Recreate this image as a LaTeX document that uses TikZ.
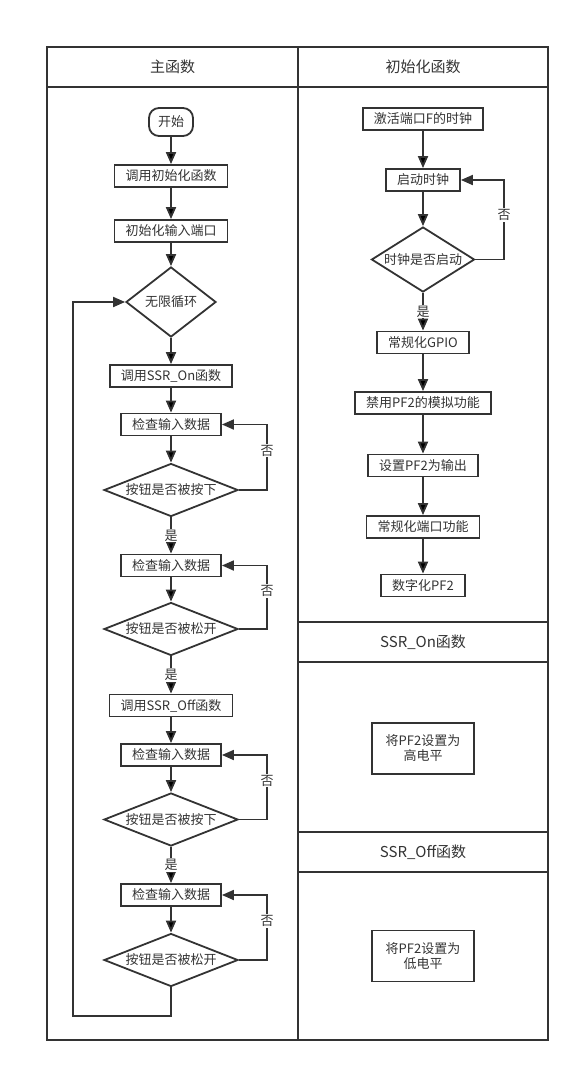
\documentclass[tikz,border=0pt]{standalone}
\usepackage{fontspec}
\setmainfont{Noto Sans CJK SC}
\usetikzlibrary{shapes.geometric,arrows.meta}
\definecolor{ink}{HTML}{333333}

\tikzset{
	frame/.style={draw=ink,line width=1.8pt},
	title/.style={text=ink,font=\fontsize{15}{18}\selectfont},
	stepbox/.style={draw=ink,line width=1.8pt,text=ink,inner xsep=11pt,minimum height=22pt,font=\fontsize{13}{15}\selectfont},
	startbox/.style={stepbox,rounded corners=10pt,minimum height=28pt,inner xsep=9pt},
	test/.style={shape=diamond,draw=ink,line width=1.8pt,text=ink,inner sep=0pt,font=\fontsize{13}{15}\selectfont},
	arr/.style={draw=ink,line width=1.8pt,-{Triangle[length=12pt,width=10pt]}},
	lbl/.style={fill=white,text=ink,inner sep=1pt,font=\fontsize{13}{15}\selectfont}
}

\begin{document}
\begin{tikzpicture}[x=1pt,y=-1pt]
	\useasboundingbox (0,0) rectangle (580,1072);
	
	\draw[frame] (47,47) rectangle (548,1040);
	\draw[frame] (298,47) -- (298,1040);
	\draw[frame] (47,87) -- (548,87);
	\draw[frame] (298,622) -- (548,622);
	\draw[frame] (298,662) -- (548,662);
	\draw[frame] (298,832) -- (548,832);
	\draw[frame] (298,872) -- (548,872);
	
	\node[title] (tmain) at (172.5, 67)  {主函数};
	\node[title] (tinit) at (423, 67)    {初始化函数};
	\node[title] (ton)   at (423, 642)   {SSR\_On函数};
	\node[title] (toff)  at (423, 852)   {SSR\_Off函数};
	
	\node[startbox] (start) at (171, 122)   {开始};
	\node[stepbox] (callinit) at (171, 176)  {调用初始化函数};
	\node[stepbox] (initin) at (171, 231)    {初始化输入端口};
	\node[test,minimum width=90pt,minimum height=70pt,aspect=1.3] (loop) at (171, 302) {无限循环};
	\node[stepbox] (callon) at (171, 376)    {调用SSR\_On函数};
	\node[stepbox] (chka) at (171, 424.5)    {检查输入数据};
	\node[test,minimum width=134pt,minimum height=53pt,aspect=2.5] (pressa) at (171, 490) {按钮是否被按下};
	\node[stepbox] (chkb) at (171, 565.5)    {检查输入数据};
	\node[test,minimum width=134pt,minimum height=53pt,aspect=2.5] (relsa) at (171, 629) {按钮是否被松开};
	\node[stepbox] (calloff) at (171, 705.5) {调用SSR\_Off函数};
	\node[stepbox] (chkc) at (171, 755)      {检查输入数据};
	\node[test,minimum width=134pt,minimum height=53pt,aspect=2.5] (pressb) at (171, 819.5) {按钮是否被按下};
	\node[stepbox] (chkd) at (171, 895)      {检查输入数据};
	\node[test,minimum width=134pt,minimum height=53pt,aspect=2.5] (relsb) at (171, 960) {按钮是否被松开};
	
	\node[stepbox] (clk) at (423, 119)       {激活端口F的时钟};
	\node[stepbox] (run) at (423, 180)       {启动时钟};
	\node[test,minimum width=103pt,minimum height=65pt,aspect=1.6] (ready) at (423, 259.5) {时钟是否启动};
	\node[stepbox] (gpio) at (423, 342.5)    {常规化GPIO};
	\node[stepbox] (anlg) at (423, 403)      {禁用PF2的模拟功能};
	\node[stepbox] (out) at (423, 465.5)     {设置PF2为输出};
	\node[stepbox] (port) at (423, 527)      {常规化端口功能};
	\node[stepbox] (dig) at (423, 585.5)     {数字化PF2};
	
	\node[stepbox,align=center,minimum width=102pt,minimum height=51pt] (high) at (423, 748.5) {将PF2设置为\\高电平};
	\node[stepbox,align=center,minimum width=102pt,minimum height=51pt] (low) at (423, 956)    {将PF2设置为\\低电平};
	
	\coordinate (rl) at (267, 0);
	\coordinate (rr) at (504, 0);
	\coordinate (back) at (73, 1016);
	
	\path[arr] (start) edge (callinit);
	\path[arr] (callinit) edge (initin);
	\path[arr] (initin) edge (loop);
	\path[arr] (loop) edge (callon);
	\path[arr] (callon) edge (chka);
	\path[arr] (chka) edge (pressa);
	\path[arr] (pressa) edge node[lbl] {是} (chkb);
	\path[arr] (chkb) edge (relsa);
	\path[arr] (relsa) edge node[lbl] {是} (calloff);
	\path[arr] (calloff) edge (chkc);
	\path[arr] (chkc) edge (pressb);
	\path[arr] (pressb) edge node[lbl] {是} (chkd);
	\path[arr] (chkd) edge (relsb);
	
	\draw[arr] (pressa.east) -- (pressa.east -| rl) |- node[lbl,pos=0.3] {否} (chka.east);
	\draw[arr] (relsa.east) -- (relsa.east -| rl) |- node[lbl,pos=0.3] {否} (chkb.east);
	\draw[arr] (pressb.east) -- (pressb.east -| rl) |- node[lbl,pos=0.3] {否} (chkc.east);
	\draw[arr] (relsb.east) -- (relsb.east -| rl) |- node[lbl,pos=0.3] {否} (chkd.east);
	\draw[arr] (relsb.south) |- (back) |- (loop.west);
	
	\path[arr] (clk) edge (run);
	\path[arr] (run) edge (ready);
	\path[arr] (ready) edge node[lbl] {是} (gpio);
	\path[arr] (gpio) edge (anlg);
	\path[arr] (anlg) edge (out);
	\path[arr] (out) edge (port);
	\path[arr] (port) edge (dig);
	\draw[arr] (ready.east) -- (ready.east -| rr) |- node[lbl,pos=0.28] {否} (run.east);
\end{tikzpicture}
\end{document}
